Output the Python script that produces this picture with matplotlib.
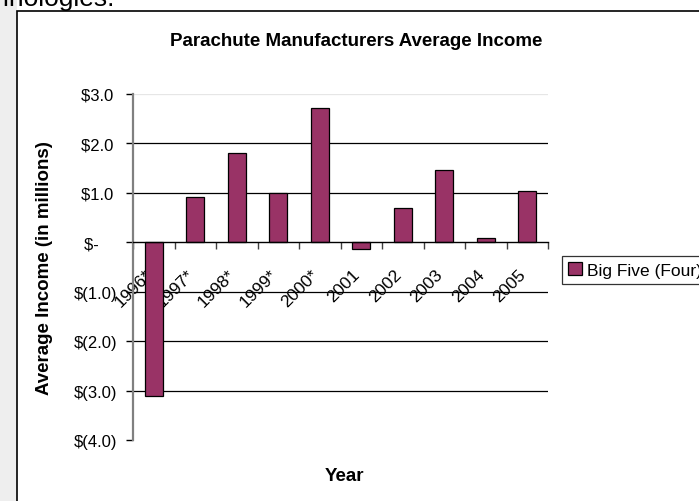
import numpy as np
import matplotlib
matplotlib.use("Agg")
import matplotlib.pyplot as plt
from matplotlib import transforms
from matplotlib.patches import Rectangle

years = ["1996*", "1997*", "1998*", "1999*", "2000*", "2001", "2002", "2003", "2004", "2005"]
income = [-3.1, 0.92, 1.8, 1.0, 2.72, -0.13, 0.7, 1.47, 0.08, 1.03]
y_ticks = [3.0, 2.0, 1.0, 0.0, -1.0, -2.0, -3.0, -4.0]
y_labels = ["$3.0 ", "$2.0 ", "$1.0 ", "$-    ", "$(1.0)", "$(2.0)", "$(3.0)", "$(4.0)"]

plt.rcParams["font.family"] = ["Liberation Sans", "DejaVu Sans"]

fig = plt.figure(figsize=(6.99, 5.02), dpi=100)

# page background strip on the left and the chart frame
fig.patches.append(Rectangle((0, 0), 17 / 699, 1, transform=fig.transFigure,
                             facecolor="#eeeeee", edgecolor="none", zorder=-2))
fig.patches.append(Rectangle((17 / 699, -0.1), 1.0, 1 - 12 / 502 + 0.1,
                             transform=fig.transFigure, facecolor="white",
                             edgecolor="black", linewidth=1.2, zorder=-1))
fig.text(115 / 699, 1 - 6 / 502, "Technologies.", ha="right", va="baseline",
         fontsize=19, color="black")

ax = fig.add_axes([133 / 699, 61 / 502, 415 / 699, 346 / 502])
ax.set_facecolor("none")

x = np.arange(len(years))
ax.bar(x, income, width=0.43, color="#993366", edgecolor="black",
       linewidth=0.9, zorder=3, label="Big Five (Four)")

ax.set_xlim(-0.5, len(years) - 0.5)
ax.set_ylim(-4.0, 3.0)

# gridlines
for v in [2.0, 1.0, -1.0, -2.0, -3.0]:
    ax.axhline(v, color="black", linewidth=0.9, zorder=1)
ax.axhline(3.0, color="#e6e6e6", linewidth=0.9, zorder=1)

for s in ["top", "right"]:
    ax.spines[s].set_visible(False)
ax.spines["left"].set_color("#808080")
ax.spines["left"].set_linewidth(1.6)
ax.spines["bottom"].set_position(("data", 0))
ax.spines["bottom"].set_color("black")
ax.spines["bottom"].set_linewidth(1.0)
ax.spines["bottom"].set_zorder(4)

ax.set_yticks(y_ticks)
ax.set_yticklabels(y_labels, fontsize=12)
ax.tick_params(axis="y", direction="out", length=5, width=1, color="black", pad=6)

ax.set_xticks(x)
ax.set_xticklabels(years, fontsize=12.5, rotation=45, ha="right", va="top",
                   rotation_mode="anchor")
ax.set_xticks(np.arange(len(years) + 1) - 0.5, minor=True)
ax.tick_params(axis="x", which="major", length=0, pad=17.5)
ax.tick_params(axis="x", which="minor", direction="out", length=5, width=1, color="#404040")
offset = transforms.ScaledTranslation(-9 / 100, 0, fig.dpi_scale_trans)
for lbl in ax.get_xticklabels():
    lbl.set_transform(lbl.get_transform() + offset)

fig.text(356 / 699, 1 - 42 / 502, "Parachute Manufacturers Average Income",
         ha="center", va="center", fontsize=13.5, fontweight="bold")
fig.text(45 / 699, 1 - 268 / 502, "Average Income (in millions)", rotation=90,
         ha="center", va="center", fontsize=13.5, fontweight="bold")
fig.text(344 / 699, 1 - 477 / 502, "Year", ha="center", va="center",
         fontsize=13.5, fontweight="bold")

leg = fig.legend(loc="center left", bbox_to_anchor=(562 / 699, 1 - 271 / 502),
                 fontsize=12.5, frameon=True, fancybox=False, handlelength=0.8,
                 handleheight=0.8, handletextpad=0.3, borderpad=0.35,
                 borderaxespad=0)
leg.get_frame().set_edgecolor("black")
leg.get_frame().set_linewidth(0.9)

fig.savefig("out.png", dpi=100)
